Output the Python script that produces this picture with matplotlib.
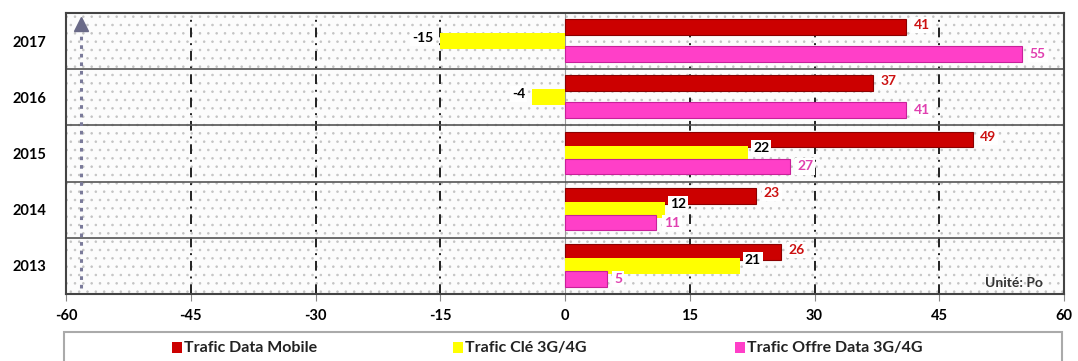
import matplotlib
matplotlib.use("Agg")
import matplotlib.pyplot as plt
from matplotlib.patches import Rectangle
import numpy as np

years = ["2013", "2014", "2015", "2016", "2017"]
data_mobile = [26, 23, 49, 37, 41]
cle_3g4g = [21, 12, 22, -4, -15]
offre_data = [5, 11, 27, 41, 55]
series_names = ["Trafic Data Mobile", "Trafic Clé 3G/4G", "Trafic Offre Data 3G/4G"]
xticks = [-60, -45, -30, -15, 0, 15, 30, 45, 60]

FONT = ["Lato", "DejaVu Sans"]
plt.rcParams["font.family"] = FONT
plt.rcParams["hatch.linewidth"] = 0.6

RED, RED_E = "#CC0000", "#8B0000"
YEL = "#FFFF00"
MAG, MAG_E = "#FF3FC8", "#C8209A"

fig = plt.figure(figsize=(10.78, 3.61), dpi=100)
ax = fig.add_axes([66/1078, 1-294/361, 998/1078, 281/361])

# dotted background
ax.set_facecolor("white")
bg = Rectangle((0, 0), 1, 1, transform=ax.transAxes, facecolor="#fcfcfc",
               edgecolor="#c4c4c4", hatch="..", linewidth=0, zorder=0)
ax.add_patch(bg)

y = np.arange(len(years))
h = 0.28
off = 0.25
ax.barh(y + off, data_mobile, height=h, color=RED, edgecolor=RED_E, linewidth=0.8, zorder=3)
ax.barh(y, cle_3g4g, height=h, color=YEL, edgecolor="none", zorder=3)
ax.barh(y - off + 0.02, offre_data, height=h, color=MAG, edgecolor=MAG_E, linewidth=0.8, zorder=3)

# gridlines
for xv in [-45, -30, -15, 15, 30, 45]:
    ax.axvline(xv, color="#222222", linewidth=1.4, linestyle=(0, (5, 3, 1, 3)), zorder=1)
ax.axvline(0, color="#999999", linewidth=0.8, zorder=2)
for yv in [0.5, 1.5, 2.5, 3.5]:
    ax.axhline(yv, color="#555555", linewidth=1.2, zorder=2)

# arrow on the left (dotted shaft + triangular head)
ax.plot([-58.2, -58.2], [-0.4, 4.2], color="#7a7a9a", linestyle=(0, (1.2, 1.6)),
        linewidth=2.2, zorder=4)
ax.plot([-58.2], [4.3], marker="^", markersize=10, color="#6a6a88", linestyle="none", zorder=4)

bb = dict(boxstyle="square,pad=0.15", facecolor="white", edgecolor="none")
FS = 10
for i in range(len(years)):
    ax.text(data_mobile[i] + 0.9, y[i] + off + 0.04, str(data_mobile[i]), color="#CC1111",
            fontsize=FS, fontweight="bold", ha="left", va="center", bbox=bb, zorder=5)
    c = cle_3g4g[i]
    if c < 0:
        ax.text(c - 0.8, y[i] + 0.06, str(c), color="black", fontsize=FS, fontweight="bold",
                ha="right", va="center", bbox=bb, zorder=5)
    else:
        ax.text(c + 0.6, y[i] + 0.1, str(c), color="black", fontsize=FS, fontweight="bold",
                ha="left", va="center", bbox=bb, zorder=5)
    ax.text(offre_data[i] + 0.9, y[i] - off + 0.02, str(offre_data[i]), color="#E040B0",
            fontsize=FS, fontweight="bold", ha="left", va="center", bbox=bb, zorder=5)

ax.text(57.5, -0.3, "Unité: Po", color="#333333", fontsize=10, fontweight="bold",
        ha="right", va="center", zorder=5)

ax.set_xlim(-60, 60)
ax.set_ylim(-0.5, 4.5)
ax.set_xticks(xticks)
ax.set_xticklabels([str(v) for v in xticks], fontsize=10.5, fontweight="bold")
ax.set_yticks(y)
ax.set_yticklabels(years, fontsize=10.5, fontweight="bold")
ax.tick_params(axis="y", length=0, pad=14)
ax.tick_params(axis="x", length=5, color="#888888", pad=6)
for s in ax.spines.values():
    s.set_color("#444444")
    s.set_linewidth(1.5)

# legend box
leg_box = Rectangle((64/1078, -0.05), 998/1078, (0.05 + 1 - 332/361), transform=fig.transFigure,
                    facecolor="white", edgecolor="#aaaaaa", linewidth=1.5)
fig.add_artist(leg_box)
ly = 1 - 348/361
for xm, name, col in [(172, series_names[0], RED), (453, series_names[1], YEL), (735, series_names[2], MAG)]:
    fig.add_artist(Rectangle((xm/1078, ly - 5/361), 10/1078, 11/361, transform=fig.transFigure,
                             facecolor=col, edgecolor="none"))
    fig.text((xm + 12)/1078, ly, name, fontsize=11.5, fontweight="bold", color="#222222",
             ha="left", va="center")

fig.savefig("out.png", dpi=100)
